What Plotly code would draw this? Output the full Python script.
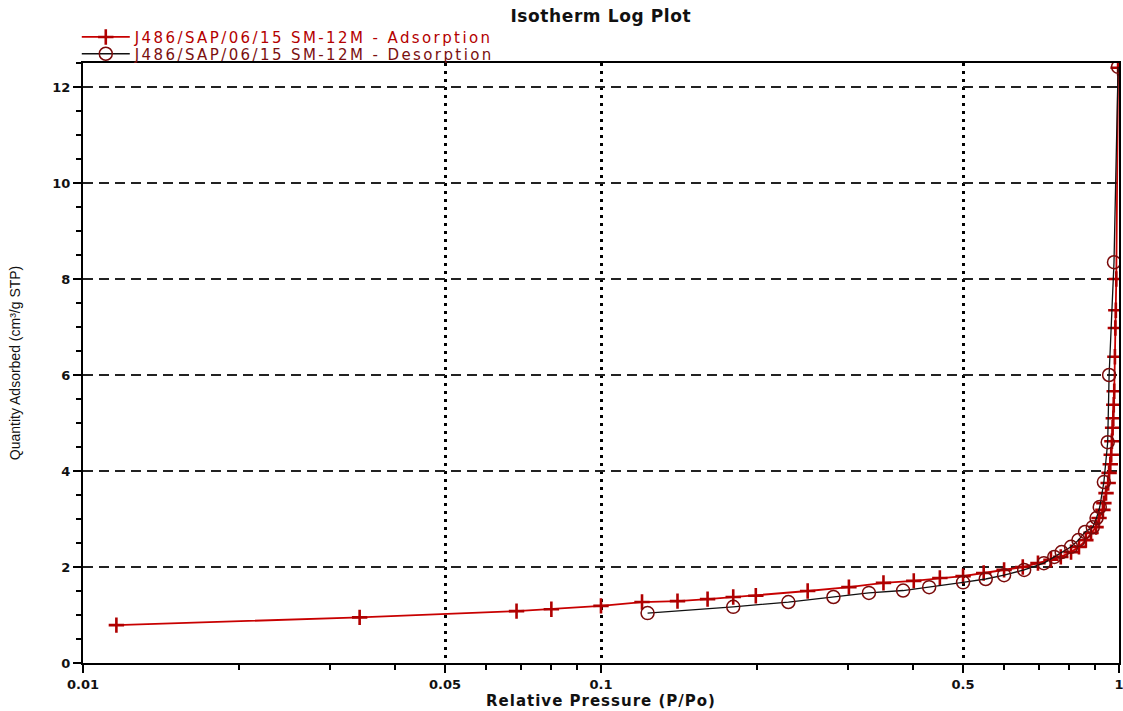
import plotly.graph_objects as go

# Isotherm data: relative pressure (P/Po) and quantity adsorbed (cm³/g STP)
ads_p = [0.0116, 0.0342, 0.0687, 0.0802, 0.100, 0.120, 0.1405, 0.1606, 0.180, 0.199,
         0.2506, 0.301, 0.351, 0.4016, 0.451, 0.500, 0.548, 0.600, 0.652, 0.6975,
         0.739, 0.772, 0.808, 0.837, 0.863, 0.883, 0.903, 0.915, 0.931, 0.935,
         0.944, 0.953, 0.957, 0.962, 0.966, 0.969, 0.972, 0.975, 0.977, 0.979,
         0.982, 0.984, 0.986, 0.988, 0.996]
ads_q = [0.79, 0.95, 1.08, 1.12, 1.19, 1.27, 1.29, 1.33, 1.375, 1.40,
         1.50, 1.58, 1.67, 1.71, 1.77, 1.81, 1.875, 1.94, 2.00, 2.08,
         2.15, 2.21, 2.31, 2.42, 2.56, 2.71, 2.83, 3.02, 3.19, 3.33,
         3.54, 3.75, 3.96, 4.14, 4.34, 4.62, 4.90, 5.10, 5.38, 5.66,
         6.38, 6.98, 7.35, 8.00, 12.40]

des_p = [0.996, 0.978, 0.957, 0.951, 0.935, 0.918, 0.905, 0.890, 0.860, 0.835,
         0.808, 0.775, 0.750, 0.716, 0.656, 0.600, 0.553, 0.500, 0.430, 0.383,
         0.329, 0.281, 0.230, 0.180, 0.123]
des_q = [12.42, 8.35, 6.00, 4.60, 3.77, 3.25, 3.02, 2.83, 2.73, 2.56,
         2.42, 2.31, 2.21, 2.08, 1.94, 1.83, 1.75, 1.68, 1.58, 1.51,
         1.46, 1.375, 1.27, 1.17, 1.04]

x_ticks = [0.01, 0.05, 0.1, 0.5, 1]
x_tick_text = ["0.01", "0.05", "0.1", "0.5", "1"]
x_minor = [0.02, 0.03, 0.04, 0.06, 0.07, 0.08, 0.09,
           0.2, 0.3, 0.4, 0.6, 0.7, 0.8, 0.9]
y_ticks = [0, 2, 4, 6, 8, 10, 12]

ads_name = "J486/SAP/06/15 SM-12M - Adsorption"
des_name = "J486/SAP/06/15 SM-12M - Desorption"


def spaced(text, px):
    """Wrap a label in a span with extra letter spacing."""
    return f'<span style="letter-spacing:{px}px">{text}</span>'


fig = go.Figure()

fig.add_trace(go.Scatter(
    x=ads_p, y=ads_q, name=spaced(ads_name, 2.4), mode="lines+markers",
    line=dict(color="#C80000", width=1.8),
    marker=dict(symbol="cross-thin", size=11, color="#B00000",
                line=dict(color="#B00000", width=2.6)),
    legend="legend",
))

fig.add_trace(go.Scatter(
    x=des_p, y=des_q, name=spaced(des_name, 2.4), mode="lines+markers",
    line=dict(color="#111111", width=1.3),
    marker=dict(symbol="circle-open", size=13, color="#7A0A0A",
                line=dict(color="#7A0A0A", width=1.5)),
    legend="legend2",
))

tick_font = dict(family="DejaVu Sans", size=13, color="#111111", weight="bold")
legend_common = dict(x=-0.006, xanchor="left", yanchor="middle",
                     bgcolor="rgba(0,0,0,0)", itemwidth=48,
                     borderwidth=0)

fig.update_layout(
    width=1123, height=711,
    margin=dict(l=83, r=4, t=63, b=48),
    paper_bgcolor="white", plot_bgcolor="white",
    title=dict(text="<b>" + spaced("Isotherm Log Plot", 0.6) + "</b>",
               x=0.535, xanchor="center", y=0.978, yanchor="middle",
               font=dict(family="DejaVu Sans", size=17, color="#111111")),
    showlegend=True,
    legend=dict(y=1.043, font=dict(family="DejaVu Sans", size=15, color="#B40000"),
                **legend_common),
    legend2=dict(y=1.015, font=dict(family="DejaVu Sans", size=15, color="#7A1010"),
                 **legend_common),
)

fig.update_xaxes(
    type="log", range=[-2, 0],
    tickvals=x_ticks, ticktext=x_tick_text,
    ticks="outside", ticklen=8, tickwidth=2, tickcolor="black",
    minor=dict(tickvals=x_minor, ticks="outside", ticklen=5, tickwidth=2,
               tickcolor="black", showgrid=False),
    showgrid=True, gridcolor="black", gridwidth=3, griddash="3px,5px",
    showline=True, linecolor="black", linewidth=2, mirror=True,
    tickfont=tick_font, automargin=False, ticklabeloverflow="allow",
    title=dict(text="<b>" + spaced("Relative Pressure (P/Po)", 1) + "</b>",
               standoff=2,
               font=dict(family="DejaVu Sans", size=15, color="#111111")),
    zeroline=False,
)

fig.update_yaxes(
    range=[0, 12.5],
    tickvals=y_ticks,
    ticks="outside", ticklen=8, tickwidth=2, tickcolor="black",
    minor=dict(dtick=0.5, ticks="outside", ticklen=5, tickwidth=2,
               tickcolor="black", showgrid=False),
    showgrid=True, gridcolor="#222222", gridwidth=1.6, griddash="10px,6px",
    showline=True, linecolor="black", linewidth=2, mirror=True,
    tickfont=tick_font, automargin=False,
    title=dict(text="Quantity Adsorbed (cm³/g STP)", standoff=28,
               font=dict(family="Liberation Sans", size=14, color="#111111")),
    zeroline=False,
)

fig.write_html("out.html")
